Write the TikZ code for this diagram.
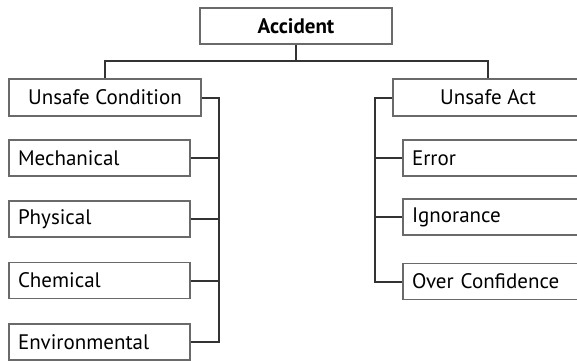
\documentclass[tikz,border=0pt]{standalone}
\usepackage{fontspec}
\setmainfont{PT Sans}
\definecolor{boxgray}{HTML}{6A6A6A}
\definecolor{linegray}{HTML}{333333}
\begin{document}
\begin{tikzpicture}[x=1pt,y=-1pt,
  box/.style={draw=boxgray, line width=1.6pt, fill=white, inner ysep=0pt, minimum height=36pt, font=\fontsize{21}{24}\selectfont},
  leftbox/.style={box, inner xsep=9pt, text width=163pt, align=left},
  rightbox/.style={box, inner xsep=9pt, text width=169pt, align=left},
  headbox/.style={box, inner xsep=0pt, minimum width=192pt, minimum height=37pt},
  conn/.style={draw=linegray, line width=2pt}]
\useasboundingbox (0,0) rectangle (577,360);
\clip (0,0) rectangle (577,360);
\node[headbox, minimum height=36pt, font=\fontsize{21}{24}\selectfont\bfseries] (acc) at (296,26) {Accident};
\node[headbox] (uc) at (105,97.5) {Unsafe Condition};
\node[headbox, minimum width=190pt] (ua) at (488,97.5) {Unsafe Act};
\node[leftbox] (mech) at (99.5,158) {Mechanical};
\node[leftbox] (phys) at (99.5,219) {Physical};
\node[leftbox] (chem) at (99.5,280.5) {Chemical};
\node[leftbox] (env) at (99.5,342) {Environmental};
\node[rightbox] (err) at (496.5,158) {Error};
\node[rightbox] (ign) at (496.5,217) {Ignorance};
\node[rightbox] (over) at (496.5,281.5) {Over Confidence};
\coordinate (tr) at (296,61);
\coordinate (lbt) at (219,97.5);
\coordinate (rbt) at (375,97.5);
\draw[conn] (acc.south) -- (tr);
\draw[conn] (uc.north) |- (tr) -| (ua.north);
\draw[conn] (uc.east) -- (lbt) -- (lbt |- env.east) -- (env.east);
\draw[conn] (mech.east) -- (mech.east -| lbt);
\draw[conn] (phys.east) -- (phys.east -| lbt);
\draw[conn] (chem.east) -- (chem.east -| lbt);
\draw[conn] (ua.west) -- (rbt) -- (rbt |- over.west) -- (over.west);
\draw[conn] (err.west) -- (err.west -| rbt);
\draw[conn] (ign.west) -- (ign.west -| rbt);
\end{tikzpicture}
\end{document}
